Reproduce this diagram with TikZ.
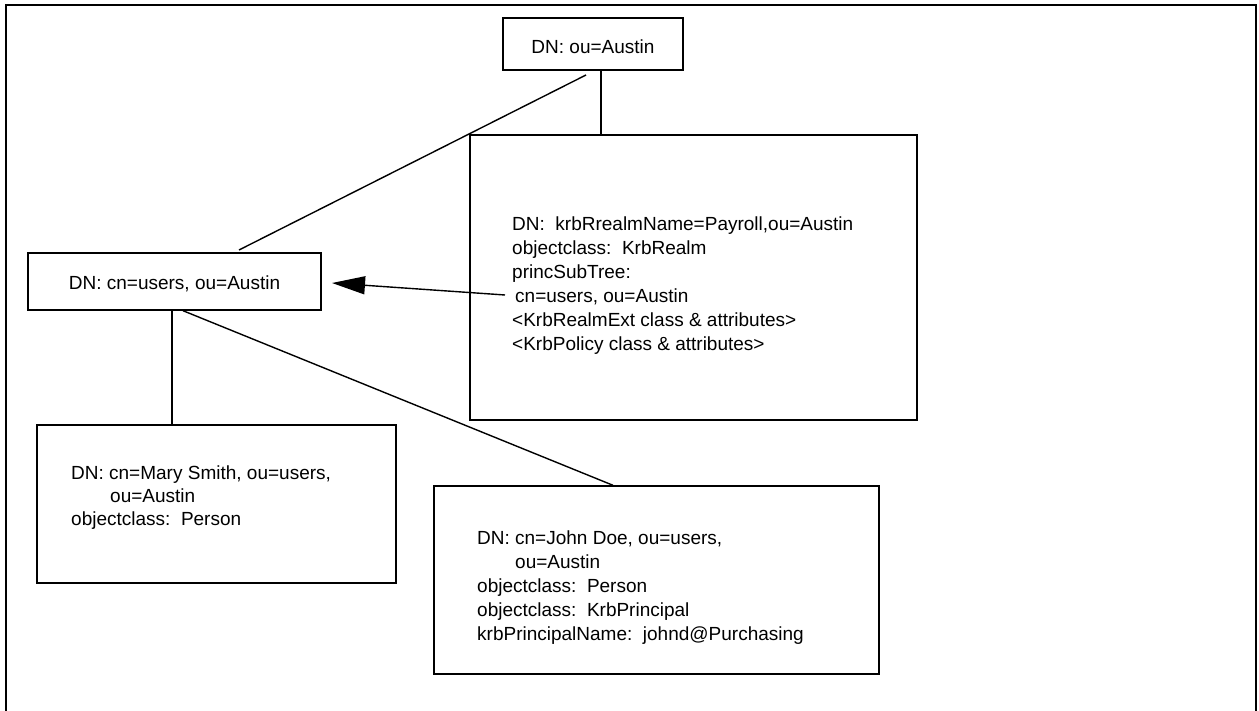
\documentclass[tikz,border=0pt]{standalone}
\usepackage{fontspec}
\setmainfont{Liberation Sans}
\usetikzlibrary{arrows.meta}

\begin{document}
\begin{tikzpicture}[x=1pt,y=-1pt,
  entry/.style={draw,line width=1.4pt,inner sep=0pt,rectangle},
  label/.style={inner sep=0pt,align=left,font=\fontsize{19}{24}\selectfont},
  link/.style={line width=1.4pt},
  ref/.style={line width=1.4pt,-{Triangle[length=33pt,width=18pt]}}]

\useasboundingbox (0,0) rectangle (1259,711);
\clip (0,0) rectangle (1259,711);

% outer frame (its lower edge runs off the page)
\draw[line width=2pt] (6,5) rectangle (1256,730);

% directory entries
\node[entry,minimum width=180pt,minimum height=52pt] (top) at (593,44) {};
\node[label,anchor=base] (toptext) at (593,54) {DN: ou=Austin};

\node[entry,minimum width=447pt,minimum height=285pt] (realm) at (693.5,277.5) {};
\node[label,anchor=north west] (realmtext) at (512,217)
  {DN:\ \ krbRrealmName=Payroll,ou=Austin\\
   objectclass:\ \ KrbRealm\\
   princSubTree:\\
   \hspace*{3pt}cn=users, ou=Austin\\
   {<}KrbRealmExt class \& attributes{>}\\
   {<}KrbPolicy class \& attributes{>}};

\node[entry,minimum width=293pt,minimum height=57pt] (users) at (174.5,281.5) {};
\node[label,anchor=base] (userstext) at (174.5,290) {DN: cn=users, ou=Austin};

\node[entry,minimum width=359pt,minimum height=158pt] (mary) at (216.5,504) {};
\node[label,anchor=north west,font=\fontsize{19}{23}\selectfont] (marytext) at (71,466)
  {DN: cn=Mary Smith, ou=users,\\
   \hspace*{39pt}ou=Austin\\
   objectclass:\ \ Person};

\node[entry,minimum width=445pt,minimum height=188pt] (john) at (656.5,580) {};
\node[label,anchor=north west] (johntext) at (477,531)
  {DN: cn=John Doe, ou=users,\\
   \hspace*{38pt}ou=Austin\\
   objectclass:\ \ Person\\
   objectclass:\ \ KrbPrincipal\\
   krbPrincipalName:\ \ johnd@Purchasing};

% tree links
\coordinate (ta) at (586,75);
\coordinate (ua) at (239,250);
\draw[link] (ta) -- (ua);
\draw[link] ([xshift=8pt]top.south) -- ([xshift=8pt]top.south |- realm.north);
\draw[link] ([xshift=-2.5pt]users.south) -- ([xshift=-2.5pt]users.south |- mary.north);
\draw[link] ([xshift=8.5pt]users.south) -- ([xshift=-43.5pt]john.north);

% princSubTree reference
\coordinate (rs) at (505,295);
\coordinate (re) at (332,283);
\draw[ref] (rs) -- (re);
\end{tikzpicture}
\end{document}
